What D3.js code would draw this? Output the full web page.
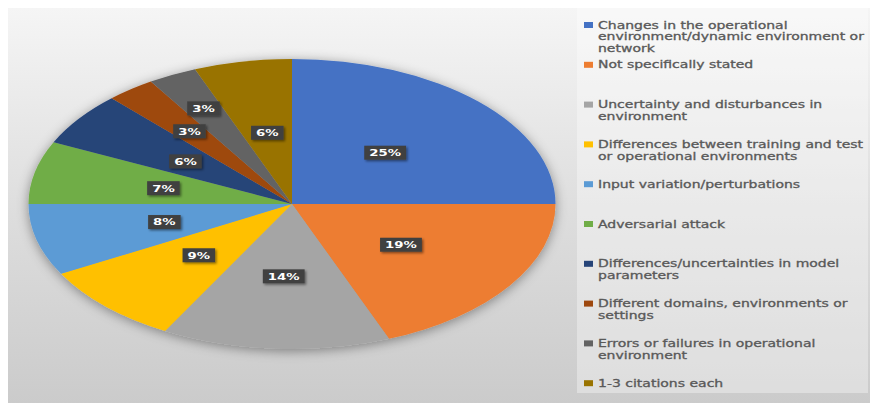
<!DOCTYPE html>
<html>
<head>
<meta charset="utf-8">
<script src="https://cdn.jsdelivr.net/npm/d3@7"></script>
<style>
  html, body { margin: 0; padding: 0; background: #ffffff; }
  svg { display: block; }
</style>
</head>
<body>
<svg id="chart" width="870" height="403"></svg>
<script>
// Sources of distribution shift cited in the surveyed literature (share of citations, %)
const categories = [
  "Changes in the operational environment/dynamic environment or network",
  "Not specifically stated",
  "Uncertainty and disturbances in environment",
  "Differences between training and test or operational environments",
  "Input variation/perturbations",
  "Adversarial attack",
  "Differences/uncertainties in model parameters",
  "Different domains, environments or settings",
  "Errors or failures in operational environment",
  "1-3 citations each"
];
const shares = [25, 19, 14, 9, 8, 7, 6, 3, 3, 6];

// Legend entries wrapped into lines as they appear beside the pie
const legendLines = [
  ["Changes in the operational", "environment/dynamic environment or", "network"],
  ["Not specifically stated"],
  ["Uncertainty and disturbances in", "environment"],
  ["Differences between training and test", "or operational environments"],
  ["Input variation/perturbations"],
  ["Adversarial attack"],
  ["Differences/uncertainties in model", "parameters"],
  ["Different domains, environments or", "settings"],
  ["Errors or failures in operational", "environment"],
  ["1-3 citations each"]
];

const colors = ["#4472C4", "#ED7D31", "#A5A5A5", "#FFC000", "#5B9BD5",
                "#70AD47", "#264478", "#9E480E", "#636363", "#997300"];

const svg = d3.select("#chart");
const W = 870, H = 403;
const defs = svg.append("defs");

// Chart area background: soft vertical gradient
const bg = defs.append("linearGradient").attr("id", "bgGrad")
  .attr("x1", 0).attr("y1", 0).attr("x2", 0).attr("y2", 1);
bg.append("stop").attr("offset", "0%").attr("stop-color", "#f5f5f5");
bg.append("stop").attr("offset", "50%").attr("stop-color", "#dedede");
bg.append("stop").attr("offset", "100%").attr("stop-color", "#cbcbcb");

const pieShadow = defs.append("filter").attr("id", "pieShadow")
  .attr("x", "-20%").attr("y", "-20%").attr("width", "140%").attr("height", "140%");
pieShadow.append("feDropShadow").attr("dx", 0).attr("dy", 2)
  .attr("stdDeviation", 6).attr("flood-color", "#000").attr("flood-opacity", 0.4);

const boxShadow = defs.append("filter").attr("id", "boxShadow")
  .attr("x", "-30%").attr("y", "-40%").attr("width", "170%").attr("height", "190%");
boxShadow.append("feDropShadow").attr("dx", 1.5).attr("dy", 1.5)
  .attr("stdDeviation", 1.2).attr("flood-color", "#000").attr("flood-opacity", 0.45);

svg.append("rect").attr("x", 8).attr("y", 8).attr("width", W - 8).attr("height", H - 8)
  .attr("fill", "url(#bgGrad)");

// Pie geometry: drawn as a circle, then widened horizontally
const cx = 292, cy = 204, r = 145, stretchX = 263.5 / 145;
const textStretch = 1.4;

const pie = d3.pie().sort(null).value(d => d)(shares);
const arc = d3.arc().innerRadius(0).outerRadius(r);

const pieG = svg.append("g")
  .attr("transform", `translate(${cx},${cy})`)
  .attr("filter", "url(#pieShadow)");
pieG.append("g")
  .attr("transform", `scale(${stretchX},1)`)
  .selectAll("path")
  .data(pie)
  .join("path")
  .attr("d", arc)
  .attr("fill", (d, i) => colors[i]);

// Data labels: centred in each slice; thin slices are staggered outward
let smallIdx = 0;
const labelG = svg.append("g").attr("transform", `translate(${cx},${cy})`);
pie.forEach((d, i) => {
  const mid = (d.startAngle + d.endAngle) / 2;
  let rr = r * 0.5;
  if (d.value < 5) { rr = r * (0.635 + 0.105 * smallIdx); smallIdx++; }
  const x = Math.sin(mid) * rr * stretchX;
  const y = -Math.cos(mid) * rr;
  const g = labelG.append("g").attr("transform", `translate(${x},${y})`);
  const label = d.value + "%";
  const t = g.append("text")
    .attr("transform", `scale(${textStretch},1)`)
    .attr("text-anchor", "middle")
    .attr("dy", "0.36em")
    .attr("font-family", "DejaVu Sans")
    .attr("font-weight", "bold")
    .attr("font-size", 9.5)
    .attr("fill", "#ffffff")
    .text(label);
  const tw = t.node().getComputedTextLength() * textStretch;
  g.insert("rect", "text")
    .attr("x", -tw / 2 - 5).attr("y", -7)
    .attr("width", tw + 10).attr("height", 14)
    .attr("fill", "#404040")
    .attr("filter", "url(#boxShadow)");
});

// Legend panel
svg.append("rect").attr("x", 577).attr("y", 8).attr("width", W - 579).attr("height", 385)
  .attr("fill", "#ffffff").attr("opacity", 0.35);

const legendTop = 25, legendStep = 39.8, lineStep = 11.7;
const legend = svg.append("g");
legendLines.forEach((lines, i) => {
  const y0 = legendTop + i * legendStep;
  legend.append("rect")
    .attr("x", 584).attr("y", y0 - 3)
    .attr("width", 9).attr("height", 6)
    .attr("fill", colors[i]);
  const tg = legend.append("g")
    .attr("transform", `translate(598,${y0}) scale(${textStretch},1)`);
  lines.forEach((ln, j) => {
    tg.append("text")
      .attr("x", 0).attr("y", j * lineStep)
      .attr("dy", "0.35em")
      .attr("font-family", "DejaVu Sans")
      .attr("font-size", 10)
      .attr("fill", "#595959")
      .attr("stroke", "#595959")
      .attr("stroke-width", 0.3)
      .text(ln);
  });
});
</script>
</body>
</html>
